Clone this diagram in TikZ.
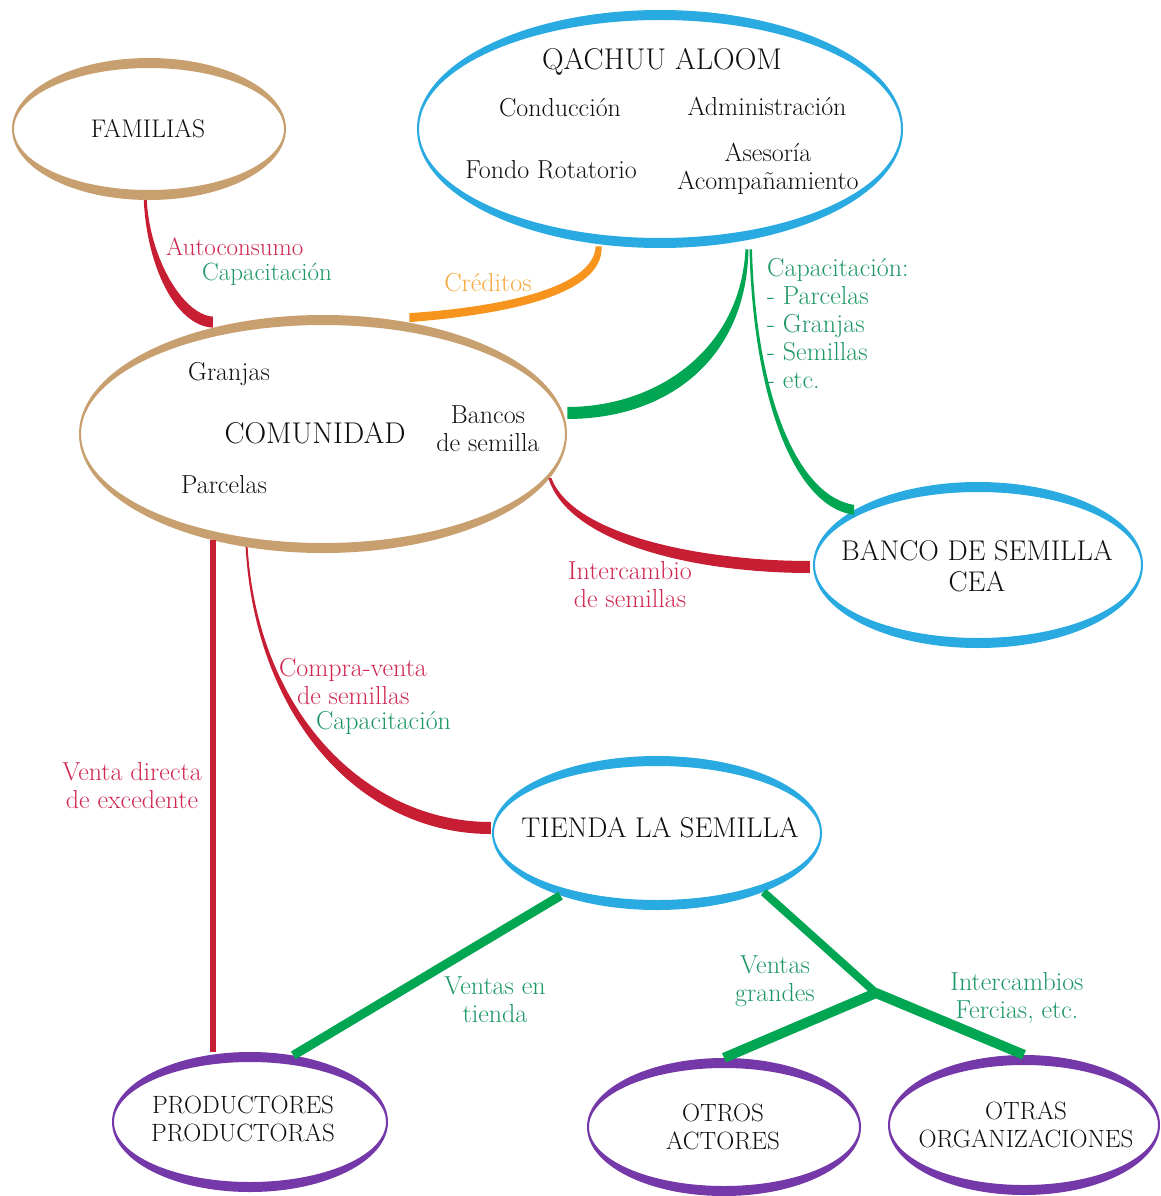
\documentclass[tikz,border=0pt]{standalone}
\usepackage{tikz}
\usetikzlibrary{shapes.geometric, calc}

\definecolor{cafe}{RGB}{200,160,112}
\definecolor{celeste}{RGB}{41,171,226}
\definecolor{morado}{RGB}{117,56,168}
\definecolor{rojo}{RGB}{200,30,52}
\definecolor{rojotxt}{RGB}{208,38,80}
\definecolor{verde}{RGB}{0,166,81}
\definecolor{verdetxt}{RGB}{28,150,100}
\definecolor{naranja}{RGB}{247,148,29}
\definecolor{naranjatxt}{RGB}{245,168,60}
\definecolor{tinta}{RGB}{15,15,15}

\begin{document}
\begin{tikzpicture}[
    x=1pt, y=-1pt,
    ribbon/.style={ellipse, inner sep=0pt, path picture={
        \fill[#1, even odd rule]
          (path picture bounding box.south west) rectangle (path picture bounding box.north east)
          let \p1 = ($(path picture bounding box.north east)-(path picture bounding box.center)$) in
          (path picture bounding box.center) ellipse [x radius=\x1-2pt, y radius=\y1-10pt];
      }},
    grande/.style={font=\fontsize{30}{33}\selectfont, text=tinta, align=center, inner sep=0pt},
    medio/.style={font=\fontsize{28.5}{31}\selectfont, text=tinta, align=center, inner sep=0pt},
    chico/.style={font=\fontsize{26}{28}\selectfont, text=tinta, align=center, inner sep=0pt},
    abajo/.style={font=\fontsize{25}{28}\selectfont, text=tinta, align=center, inner sep=0pt},
    etiq/.style={font=\fontsize{26}{28}\selectfont, align=center, inner sep=0pt},
    recta/.style={verde, line width=#1, line join=round}
  ]

  \useasboundingbox (0,0) rectangle (1161,1196);

  % --- ELIPSES ---

  \node[ribbon=cafe, minimum width=274pt, minimum height=142pt] (fam) at (149,129) {};
  \node[ribbon=celeste, minimum width=486pt, minimum height=238pt] (qa) at (660,129) {};
  \node[ribbon=cafe, minimum width=488pt, minimum height=238pt] (com) at (323,434) {};
  \node[ribbon=celeste, minimum width=330pt, minimum height=166pt] (banco) at (978,565) {};
  \node[ribbon=celeste, minimum width=330pt, minimum height=154pt] (tienda) at (657,833) {};
  \node[ribbon=morado, minimum width=276pt, minimum height=140pt] (prod) at (250,1122) {};
  \node[ribbon=morado, minimum width=274pt, minimum height=138pt] (otros) at (724,1127) {};
  \node[ribbon=morado, minimum width=272pt, minimum height=140pt] (otras) at (1024,1125) {};

  % --- TEXTOS DE LAS ELIPSES ---

  \node[font=\fontsize{25.5}{28}\selectfont, text=tinta, inner sep=0pt] (fam-t) at (148,129) {FAMILIAS};

  \node[grande] (qa-t) at (662,62) {QACHUU ALOOM};
  \node[chico] (conduccion) at (560,108) {Conducción};
  \node[chico] (admin) at (767,106) {Administración};
  \node[chico] (fondo) at (551,170) {Fondo Rotatorio};
  \node[chico] (asesoria) at (768,169) {Asesoría\\Acompañamiento};

  \node[grande] (com-t) at (315,433) {COMUNIDAD};
  \node[chico] (granjas) at (229,374) {Granjas};
  \node[chico] (bancos) at (488,429) {Bancos\\de semilla};
  \node[chico] (parcelas) at (224,485) {Parcelas};

  \node[medio] (banco-t) at (977,566) {BANCO DE SEMILLA\\CEA};
  \node[medio] (tienda-t) at (660,828) {TIENDA LA SEMILLA};
  \node[abajo] (prod-t) at (243,1119) {PRODUCTORES\\PRODUCTORAS};
  \node[abajo] (otros-t) at (723,1127) {OTROS\\ACTORES};
  \node[abajo] (otras-t) at (1026,1125) {OTRAS\\ORGANIZACIONES};

  % --- CONEXIONES ---

  % familias - comunidad
  \fill[rojo] ($(fam.267)+(-1.5,0)$) .. controls +(3,65) and +(-38,-2) .. (com.136)
    -- ($(com.136)+(0,-11)$) .. controls +(-30,-2) and +(3,58) .. ($(fam.267)+(1.5,0)$) -- cycle;

  % creditos
  \fill[naranja] ($(qa.242)+(-3,2)$) .. controls +(-2,42) and +(90,-6) .. ($(com.53)+(2,-9)$)
    -- ($(com.53)+(2,0)$) .. controls +(100,-8) and +(2,48) .. ($(qa.242)+(3,2)$) -- cycle;

  % capacitacion hacia la comunidad
  \fill[verde] ($(qa.308)+(-1.5,9)$) .. controls +(-5,100) and +(90,0) .. ($(com.5)+(4,-6)$)
    -- ($(com.5)+(4,6)$) .. controls +(100,0) and +(-2,110) .. ($(qa.308)+(1.5,9)$) -- cycle;

  % capacitacion hacia el banco CEA
  \fill[verde] ($(qa.308)+(2.5,9)$) .. controls +(4,150) and +(-60,-8) .. ($(banco.156)+(0,5)$)
    -- ($(banco.156)+(0,-5)$) .. controls +(-55,-8) and +(4,150) .. ($(qa.308)+(5,9)$) -- cycle;

  % intercambio de semillas
  \fill[rojo] ($(com.349)+(-1.5,0)$) .. controls +(20,65) and +(-115,0) .. ($(banco.west)+(-3,8)$)
    -- ($(banco.west)+(-3,-4)$) .. controls +(-105,0) and +(22,58) .. ($(com.349)+(1.5,0)$) -- cycle;

  % compra-venta
  \fill[rojo] ($(com.236)+(-1,0)$) .. controls +(10,172) and +(-130,0) .. ($(tienda.west)+(-1,1)$)
    -- ($(tienda.west)+(-1,-11)$) .. controls +(-125,0) and +(10,165) .. ($(com.236)+(1,0)$) -- cycle;

  % venta directa
  \draw[rojo, line width=6pt] (com.224) -- (com.224 |- prod.north);

  % ventas de la tienda
  \coordinate (cruce) at (876,993);
  \draw[recta=9pt] (tienda.213) -- (prod.57);
  \draw[recta=8pt] (tienda.331) -- (cruce);
  \draw[recta=10pt] (otros.north) -- (cruce) -- (otras.north);

  % --- ETIQUETAS ---

  \node[etiq, align=left, font=\fontsize{25}{25}\selectfont] (autocap) at (249,262)
    {\textcolor{rojotxt}{Autoconsumo}\\\hspace*{36pt}\textcolor{verdetxt}{Capacitación}};
  \node[etiq, text=naranjatxt] (creditos) at (488,283) {Créditos};
  \node[etiq, text=verdetxt, align=left, anchor=north west] (capqa) at (767,258)
    {Capacitación:\\- Parcelas\\- Granjas\\- Semillas\\- etc.};
  \node[etiq, text=rojotxt] (intercambio) at (630,585) {Intercambio\\de semillas};
  \node[etiq, align=left] (compra) at (365,696)
    {\textcolor{rojotxt}{Compra-venta}\\\hspace*{18pt}\textcolor{rojotxt}{de semillas}\\[-3pt]
     \hspace*{37pt}\textcolor{verdetxt}{Capacitación}};
  \node[etiq, text=rojotxt] (directa) at (132,786) {Venta directa\\de excedente};
  \node[etiq, text=verdetxt] (vtienda) at (495,1000) {Ventas en\\tienda};
  \node[etiq, text=verdetxt] (vgrandes) at (775,981) {Ventas\\grandes};
  \node[etiq, text=verdetxt] (intercambios) at (1017,998) {Intercambios\\Fercias, etc.};

\end{tikzpicture}
\end{document}
